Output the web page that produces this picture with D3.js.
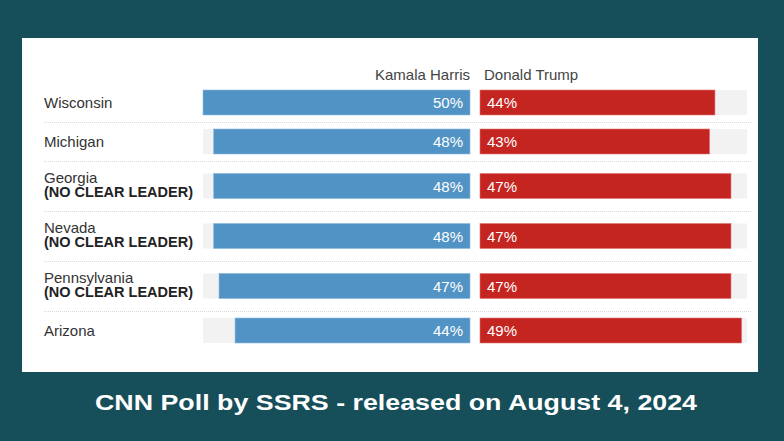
<!DOCTYPE html>
<html>
<head>
<meta charset="utf-8">
<script src="https://cdn.jsdelivr.net/npm/d3@7"></script>
<style>
  html, body { margin: 0; padding: 0; background: #164e5a; }
  svg { display: block; }
</style>
</head>
<body>
<svg id="chart" width="784" height="441"></svg>
<script>
// ---- data ----
const states = ["Wisconsin", "Michigan", "Georgia", "Nevada", "Pennsylvania", "Arizona"];
const notes = ["", "", "(NO CLEAR LEADER)", "(NO CLEAR LEADER)", "(NO CLEAR LEADER)", ""];
const harris = [50, 48, 48, 48, 47, 44];
const trump = [44, 43, 47, 47, 47, 49];
const candidates = ["Kamala Harris", "Donald Trump"];
const valueMax = 50;
const title = "CNN Poll by SSRS - released on August 4, 2024";

// ---- layout ----
const W = 784, H = 441;
const svg = d3.select("#chart");
const font = "'Liberation Sans', Arial, Helvetica, sans-serif";

svg.append("rect").attr("width", W).attr("height", H).attr("fill", "#164e5a");
svg.append("rect").attr("x", 22).attr("y", 38).attr("width", 736).attr("height", 334)
  .attr("fill", "#ffffff");

const center = 475, gap = 5, trackW = 267;
const xL = d3.scaleLinear().domain([0, valueMax]).range([center - gap, center - gap - trackW]);
const xR = d3.scaleLinear().domain([0, valueMax]).range([center + gap, center + gap + trackW]);

const rowH = notes.map(n => n ? 50 : 39);
const top0 = 83;
const tops = [top0, ...Array.from(d3.cumsum(rowH)).map(v => top0 + v)];
const barH = 25;

const rows = states.map((s, i) => ({
  state: s, note: notes[i], h: harris[i], t: trump[i],
  top: tops[i], height: rowH[i], mid: tops[i] + rowH[i] / 2
}));

// header
svg.append("text").attr("x", xL(0)).attr("y", 74).attr("text-anchor", "end")
  .attr("dominant-baseline", "central").attr("font-family", font).attr("font-size", 15)
  .attr("fill", "#444").text(candidates[0]);
svg.append("text").attr("x", xR(0) + 4).attr("y", 74).attr("text-anchor", "start")
  .attr("dominant-baseline", "central").attr("font-family", font).attr("font-size", 15)
  .attr("fill", "#444").text(candidates[1]);

// separators
svg.selectAll("line.sep").data(rows.slice(1)).join("line")
  .attr("class", "sep")
  .attr("x1", 44).attr("x2", 752)
  .attr("y1", d => d.top + 0.5).attr("y2", d => d.top + 0.5)
  .attr("stroke", "#d8d8d8").attr("stroke-width", 1).attr("stroke-dasharray", "1,1");

const g = svg.selectAll("g.row").data(rows).join("g").attr("class", "row");

// tracks
g.append("rect").attr("x", xL(valueMax)).attr("y", d => d.mid - barH / 2)
  .attr("width", xL(0) - xL(valueMax)).attr("height", barH).attr("fill", "#f2f2f2");
g.append("rect").attr("x", xR(0)).attr("y", d => d.mid - barH / 2)
  .attr("width", xR(valueMax) - xR(0)).attr("height", barH).attr("fill", "#f2f2f2");

// bars
g.append("rect").attr("x", d => xL(d.h)).attr("y", d => d.mid - barH / 2)
  .attr("width", d => xL(0) - xL(d.h)).attr("height", barH)
  .attr("fill", "#5193c5").attr("stroke", "#8dbbe0").attr("stroke-width", 0.6);
g.append("rect").attr("x", xR(0)).attr("y", d => d.mid - barH / 2)
  .attr("width", d => xR(d.t) - xR(0)).attr("height", barH)
  .attr("fill", "#c42521").attr("stroke", "#e07876").attr("stroke-width", 0.6);

// values
g.append("text").attr("x", xL(0) - 7).attr("y", d => d.mid)
  .attr("text-anchor", "end").attr("dominant-baseline", "central")
  .attr("font-family", font).attr("font-size", 15).attr("fill", "#ffffff")
  .text(d => d.h + "%");
g.append("text").attr("x", xR(0) + 7).attr("y", d => d.mid)
  .attr("text-anchor", "start").attr("dominant-baseline", "central")
  .attr("font-family", font).attr("font-size", 15).attr("fill", "#ffffff")
  .text(d => d.t + "%");

// labels
g.append("text").attr("x", 44).attr("y", d => d.note ? d.mid - 9 : d.mid)
  .attr("dominant-baseline", "central").attr("font-family", font).attr("font-size", 15)
  .attr("fill", "#333").text(d => d.state);
g.filter(d => d.note).append("text").attr("x", 44).attr("y", d => d.mid + 6)
  .attr("dominant-baseline", "central").attr("font-family", font).attr("font-size", 14.5)
  .attr("font-weight", "bold").attr("fill", "#222").text(d => d.note);

// title
svg.append("text").attr("x", 95).attr("y", 410).attr("text-anchor", "start")
  .attr("font-family", font).attr("font-size", 22)
  .attr("font-weight", "bold").attr("fill", "#ffffff")
  .attr("textLength", 602).attr("lengthAdjust", "spacingAndGlyphs")
  .text(title);
</script>
</body>
</html>
